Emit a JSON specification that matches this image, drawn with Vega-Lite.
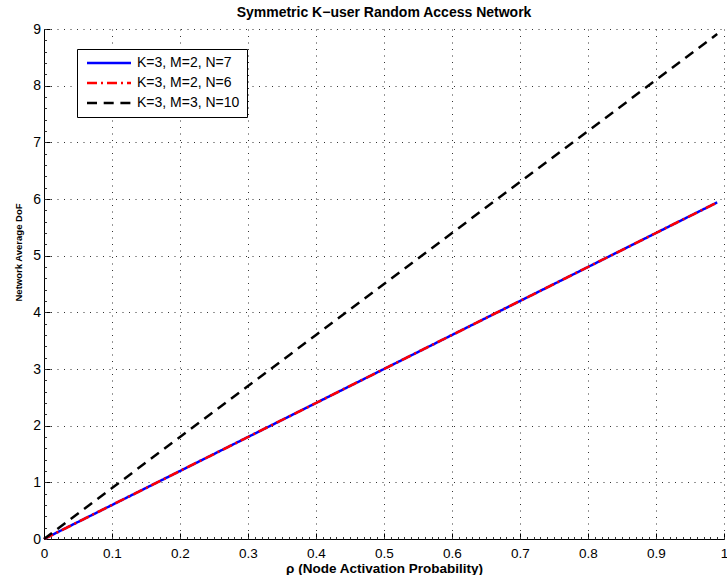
{
  "$schema": "https://vega.github.io/schema/vega-lite/v6.json",
  "width": 680,
  "height": 510,
  "autosize": "none",
  "padding": {"left": 44, "top": 29, "right": 3, "bottom": 36},
  "background": "white",
  "title": {
    "text": "Symmetric K−user Random Access Network",
    "anchor": "middle",
    "frame": "group",
    "font": "Liberation Sans",
    "fontSize": 14,
    "fontWeight": "bold",
    "color": "black",
    "baseline": "alphabetic",
    "offset": -9
  },
  "config": {"view": {"stroke": null}, "font": "Liberation Sans"},
  "data": {
    "values": [
      {"series": "K=3, M=2, N=7", "rho": 0.0, "dof": 0.0},
      {"series": "K=3, M=2, N=7", "rho": 0.1, "dof": 0.6},
      {"series": "K=3, M=2, N=7", "rho": 0.2, "dof": 1.2},
      {"series": "K=3, M=2, N=7", "rho": 0.3, "dof": 1.8},
      {"series": "K=3, M=2, N=7", "rho": 0.4, "dof": 2.4},
      {"series": "K=3, M=2, N=7", "rho": 0.5, "dof": 3.0},
      {"series": "K=3, M=2, N=7", "rho": 0.6, "dof": 3.6},
      {"series": "K=3, M=2, N=7", "rho": 0.7, "dof": 4.2},
      {"series": "K=3, M=2, N=7", "rho": 0.8, "dof": 4.8},
      {"series": "K=3, M=2, N=7", "rho": 0.9, "dof": 5.4},
      {"series": "K=3, M=2, N=7", "rho": 0.99, "dof": 5.94},
      {"series": "K=3, M=2, N=6", "rho": 0.0, "dof": 0.0},
      {"series": "K=3, M=2, N=6", "rho": 0.1, "dof": 0.6},
      {"series": "K=3, M=2, N=6", "rho": 0.2, "dof": 1.2},
      {"series": "K=3, M=2, N=6", "rho": 0.3, "dof": 1.8},
      {"series": "K=3, M=2, N=6", "rho": 0.4, "dof": 2.4},
      {"series": "K=3, M=2, N=6", "rho": 0.5, "dof": 3.0},
      {"series": "K=3, M=2, N=6", "rho": 0.6, "dof": 3.6},
      {"series": "K=3, M=2, N=6", "rho": 0.7, "dof": 4.2},
      {"series": "K=3, M=2, N=6", "rho": 0.8, "dof": 4.8},
      {"series": "K=3, M=2, N=6", "rho": 0.9, "dof": 5.4},
      {"series": "K=3, M=2, N=6", "rho": 0.99, "dof": 5.94},
      {"series": "K=3, M=3, N=10", "rho": 0.0, "dof": 0.0},
      {"series": "K=3, M=3, N=10", "rho": 0.1, "dof": 0.9},
      {"series": "K=3, M=3, N=10", "rho": 0.2, "dof": 1.8},
      {"series": "K=3, M=3, N=10", "rho": 0.3, "dof": 2.7},
      {"series": "K=3, M=3, N=10", "rho": 0.4, "dof": 3.6},
      {"series": "K=3, M=3, N=10", "rho": 0.5, "dof": 4.5},
      {"series": "K=3, M=3, N=10", "rho": 0.6, "dof": 5.4},
      {"series": "K=3, M=3, N=10", "rho": 0.7, "dof": 6.3},
      {"series": "K=3, M=3, N=10", "rho": 0.8, "dof": 7.2},
      {"series": "K=3, M=3, N=10", "rho": 0.9, "dof": 8.1},
      {"series": "K=3, M=3, N=10", "rho": 0.99, "dof": 8.91}
    ]
  },
  "resolve": {"axis": {"x": "independent", "y": "independent"}},
  "layer": [
    {
      "mark": {"type": "line", "strokeWidth": 2.5, "strokeCap": "butt"},
      "encoding": {
        "x": {
          "field": "rho",
          "type": "quantitative",
          "scale": {"domain": [0, 1], "nice": false, "zero": false},
          "axis": {
            "orient": "bottom",
            "title": "ρ (Node Activation Probability)",
            "values": [0, 0.1, 0.2, 0.3, 0.4, 0.5, 0.6, 0.7, 0.8, 0.9, 1],
            "format": ".1~f",
            "labelFont": "Liberation Sans",
            "labelFontSize": 13.5,
            "labelColor": "black",
            "labelPadding": 13,
            "labelFlush": false,
            "labelOverlap": false,
            "tickSize": -6,
            "tickColor": "black",
            "tickWidth": 1,
            "domainColor": "black",
            "domainWidth": 1,
            "grid": true,
            "gridColor": "#333333",
            "gridDash": [1, 5.5],
            "gridWidth": 1,
            "titleFont": "Liberation Sans",
            "titleFontSize": 13.5,
            "titleFontWeight": "bold",
            "titleColor": "black",
            "titleBaseline": "alphabetic",
            "titleAlign": "center",
            "titleX": 340,
            "titleY": 33.5
          }
        },
        "y": {
          "field": "dof",
          "type": "quantitative",
          "scale": {"domain": [0, 9], "nice": false, "zero": false},
          "axis": {
            "orient": "left",
            "title": "Network Average DoF",
            "values": [0, 1, 2, 3, 4, 5, 6, 7, 8, 9],
            "format": "d",
            "labelFont": "Liberation Sans",
            "labelFontSize": 14,
            "labelColor": "black",
            "labelPadding": 9.5,
            "labelFlush": false,
            "labelOverlap": false,
            "tickSize": -6,
            "tickColor": "black",
            "tickWidth": 1,
            "domainColor": "black",
            "domainWidth": 1,
            "grid": true,
            "gridColor": "#333333",
            "gridDash": [1, 5.5],
            "gridWidth": 1,
            "titleFont": "Liberation Sans",
            "titleFontSize": 9.5,
            "titleFontWeight": "bold",
            "titleColor": "black",
            "titleAngle": 270,
            "titleBaseline": "alphabetic",
            "titleAlign": "center",
            "titleX": -23,
            "titleY": 223
          }
        },
        "color": {
          "field": "series",
          "type": "nominal",
          "scale": {
            "domain": ["K=3, M=2, N=7", "K=3, M=2, N=6", "K=3, M=3, N=10"],
            "range": ["#0000ff", "#ff0000", "#000000"]
          },
          "legend": {
            "title": null,
            "orient": "none",
            "legendX": 33,
            "legendY": 20,
            "direction": "vertical",
            "fillColor": "white",
            "strokeColor": "black",
            "padding": 7,
            "cornerRadius": 0,
            "symbolType": "M-0.8,0H8",
            "symbolSize": 100,
            "symbolStrokeWidth": 2.5,
            "labelOffset": 39,
            "labelFont": "Liberation Sans",
            "labelFontSize": 14,
            "labelColor": "black",
            "labelLimit": 300,
            "rowPadding": 6
          }
        },
        "strokeDash": {
          "field": "series",
          "type": "nominal",
          "scale": {
            "domain": ["K=3, M=2, N=7", "K=3, M=2, N=6", "K=3, M=3, N=10"],
            "range": [[1, 0], [10, 4, 2, 4], [10, 6.7]]
          },
          "legend": {
            "title": null,
            "orient": "none",
            "legendX": 33,
            "legendY": 20,
            "direction": "vertical",
            "fillColor": "white",
            "strokeColor": "black",
            "padding": 7,
            "cornerRadius": 0,
            "symbolType": "M-0.8,0H8",
            "symbolSize": 100,
            "symbolStrokeWidth": 2.5,
            "labelOffset": 39,
            "labelFont": "Liberation Sans",
            "labelFontSize": 14,
            "labelColor": "black",
            "labelLimit": 300,
            "rowPadding": 6
          }
        }
      }
    },
    {
      "mark": {"type": "line", "opacity": 0},
      "encoding": {
        "x": {
          "field": "rho",
          "type": "quantitative",
          "axis": {
            "orient": "bottom",
            "title": null,
            "tickCount": 100,
            "labels": false,
            "grid": false,
            "domain": false,
            "ticks": true,
            "tickSize": -2.5,
            "tickColor": "#333333",
            "tickWidth": 1
          }
        },
        "y": {
          "field": "dof",
          "type": "quantitative",
          "axis": {
            "orient": "left",
            "title": null,
            "tickCount": 45,
            "labels": false,
            "grid": false,
            "domain": false,
            "ticks": true,
            "tickSize": -2.5,
            "tickColor": "#333333",
            "tickWidth": 1
          }
        }
      }
    }
  ]
}
